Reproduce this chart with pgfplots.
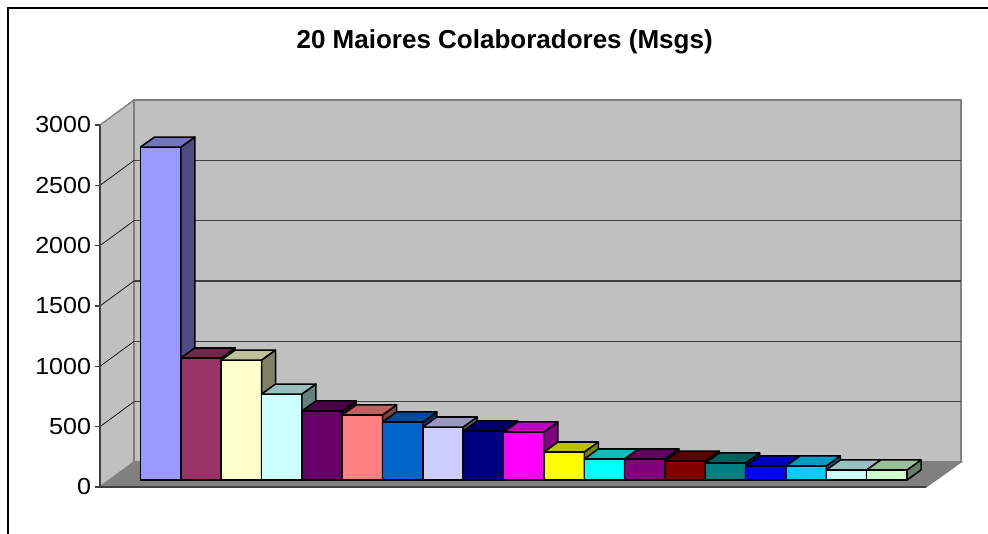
\documentclass[border=0pt]{standalone}
\usepackage{fontspec}
\setmainfont{Liberation Sans}
\usepackage{pgfplots}
\pgfplotsset{compat=1.18}
\definecolor{wall}{HTML}{C0C0C0}
\definecolor{floorc}{HTML}{808080}
\definecolor{axisc}{HTML}{404040}
\definecolor{b1}{HTML}{9999FF}\definecolor{b2}{HTML}{993366}\definecolor{b3}{HTML}{FFFFCC}
\definecolor{b4}{HTML}{CCFFFF}\definecolor{b5}{HTML}{660066}\definecolor{b6}{HTML}{FF8080}
\definecolor{b7}{HTML}{0066CC}\definecolor{b8}{HTML}{CCCCFF}\definecolor{b9}{HTML}{000080}
\definecolor{b10}{HTML}{FF00FF}\definecolor{b11}{HTML}{FFFF00}\definecolor{b12}{HTML}{00FFFF}
\definecolor{b13}{HTML}{800080}\definecolor{b14}{HTML}{800000}\definecolor{b15}{HTML}{008080}
\definecolor{b16}{HTML}{0000FF}\definecolor{b17}{HTML}{00CCFF}\definecolor{b18}{HTML}{CCFFFF}
\definecolor{b19}{HTML}{CCFFCC}
% one bar: index, value, colour; depth is 0.347 categories and 83 units
\newcommand\threedbar[3]{%
  \pgfmathsetmacro\xl{#1-0.5}\pgfmathsetmacro\xr{#1+0.5}%
  \pgfmathsetmacro\xld{#1-0.153}\pgfmathsetmacro\xrd{#1+0.847}%
  \pgfmathsetmacro\vd{#2+83}%
  \addplot[ybar,bar width=1,bar shift=0pt,fill=#3,draw=black,line width=1.15pt] coordinates {(#1,#2)};
  \addplot[fill=#3!50!black,draw=black,line width=1.15pt,line join=round] coordinates {(\xr,0)(\xrd,83)(\xrd,\vd)(\xr,#2)} --cycle;
  \addplot[fill=#3!75!black,draw=black,line width=1.15pt,line join=round] coordinates {(\xl,#2)(\xr,#2)(\xrd,\vd)(\xld,\vd)} --cycle;
}
\begin{document}
\begin{tikzpicture}
\path[use as bounding box,fill=white] (0pt,0pt) rectangle (741pt,400.5pt);
\draw[black,line width=0.9pt] (6pt,0pt) -- (6pt,394.5pt) -- (741pt,394.5pt);
\node[font=\bfseries\fontsize{19.5pt}{21pt}\selectfont,anchor=center] at (378.5pt,369pt) {20 Maiores Colaboradores (Msgs)};
\begin{axis}[
  at={(75pt,35.25pt)},anchor=south west,
  scale only axis,width=619.5pt,height=271.5pt,
  xmin=100,xmax=926,ymin=0,ymax=3000,
  clip=false,axis on top,
  axis y line=left,axis x line=bottom,
  axis line style={-,axisc,line width=1pt},
  xtick=\empty,
  ytick={0,500,1000,1500,2000,2500,3000},
  tick style={axisc,line width=0.8pt},
  tick align=outside,major tick length=4pt,
  y tick label style={font=\fontsize{17.4pt}{20pt}\selectfont,xscale=1.08,transform shape,xshift=1pt},
  /pgf/number format/assume math mode=true,
  scaled y ticks=false,
  yticklabel style={/pgf/number format/1000 sep={}},
]
% walls and floor
\addplot[fill=wall,draw=floorc,line width=1pt] coordinates {(100,0)(134,207)(134,3207)(100,3000)} --cycle;
\addplot[fill=wall,draw=floorc,line width=1.5pt] coordinates {(134,207)(961,207)(961,3207)(134,3207)} --cycle;
\addplot[fill=floorc,draw=floorc,line width=1pt] coordinates {(100,0)(926,0)(961,207)(134,207)} --cycle;
% grid lines across the side wall and the back wall
\addplot[black,line width=0.5pt] coordinates {(100,500)(134,707)};
\addplot[black,line width=0.5pt] coordinates {(100,1000)(134,1207)};
\addplot[black,line width=0.5pt] coordinates {(100,1500)(134,1707)};
\addplot[black,line width=0.5pt] coordinates {(100,2000)(134,2207)};
\addplot[black,line width=0.5pt] coordinates {(100,2500)(134,2707)};
\addplot[axisc,line width=0.8pt] coordinates {(134,707)(961,707)};
\addplot[axisc,line width=0.8pt] coordinates {(134,1207)(961,1207)};
\addplot[axisc,line width=0.8pt] coordinates {(134,1707)(961,1707)};
\addplot[axisc,line width=0.8pt] coordinates {(134,2207)(961,2207)};
\addplot[axisc,line width=0.8pt] coordinates {(134,2707)(961,2707)};
\end{axis}
\begin{axis}[
  at={(105.375pt,40.5pt)},anchor=south west,
  scale only axis,width=574.9pt,height=271.5pt,
  xmin=-0.5,xmax=18.5,ymin=0,ymax=3000,
  clip=false,hide axis,
]
\threedbar{0}{2759}{b1}
\threedbar{1}{1011}{b2}
\threedbar{2}{994}{b3}
\threedbar{3}{712}{b4}
\threedbar{4}{572}{b5}
\threedbar{5}{539}{b6}
\threedbar{6}{481}{b7}
\threedbar{7}{439}{b8}
\threedbar{8}{406}{b9}
\threedbar{9}{398}{b10}
\threedbar{10}{232}{b11}
\threedbar{11}{174}{b12}
\threedbar{12}{174}{b13}
\threedbar{13}{157}{b14}
\threedbar{14}{141}{b15}
\threedbar{15}{116}{b16}
\threedbar{16}{116}{b17}
\threedbar{17}{83}{b18}
\threedbar{18}{83}{b19}
\end{axis}
\end{tikzpicture}
\end{document}
